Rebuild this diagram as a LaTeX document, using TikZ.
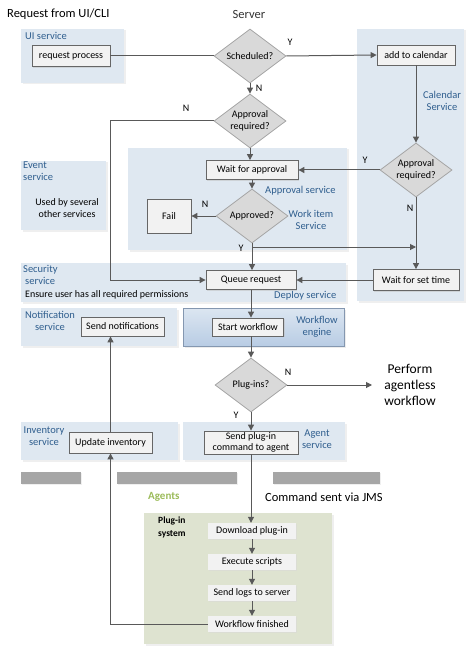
\documentclass[tikz,border=0pt]{standalone}
\usepackage{fontspec}
\setmainfont{Carlito}
\usetikzlibrary{arrows.meta,shapes.geometric,shadows}
\definecolor{panel}{HTML}{DFE8F1}
\definecolor{labblue}{HTML}{2F5E8E}
\definecolor{boxfill}{HTML}{F2F2F2}
\definecolor{boxline}{HTML}{666666}
\definecolor{diafill}{HTML}{D9D9D9}
\definecolor{dialine}{HTML}{A6A6A6}
\definecolor{linegray}{HTML}{595959}
\definecolor{greenpanel}{HTML}{DEE3D0}
\definecolor{agentsgreen}{HTML}{9BBB59}
\definecolor{bargray}{HTML}{A6A6A6}
\definecolor{wftop}{HTML}{DCE6F1}
\definecolor{wfbot}{HTML}{B8CCE4}
\definecolor{wfline}{HTML}{8497B0}
\begin{document}
\begin{tikzpicture}[x=1pt,y=-1pt,
  every node/.style={font=\fontsize{10}{11.5}\selectfont},
  pnl/.style={fill=panel, drop shadow={shadow xshift=1.5pt,shadow yshift=-1.5pt,fill=black!12}},
  box/.style={draw=boxline, fill=boxfill, line width=0.8pt, inner sep=0pt, align=center,
    drop shadow={shadow xshift=1.2pt,shadow yshift=-1.2pt,fill=black!25}},
  abox/.style={fill=boxfill, inner sep=0pt, align=center, minimum width=88pt, minimum height=16pt,
    drop shadow={shadow xshift=1.2pt,shadow yshift=-1.2pt,fill=black!15}},
  dia/.style={diamond, draw=dialine, fill=diafill, line width=0.8pt, inner sep=0pt,
    minimum width=72pt, minimum height=54pt},
  dtext/.style={align=center, inner sep=0pt},
  lab/.style={text=labblue, align=center, inner sep=0pt, font=\fontsize{10.5}{12}\selectfont},
  yn/.style={inner sep=0pt},
  ln/.style={line width=1pt, draw=linegray},
  arr/.style={ln, -{Triangle[width=6pt,length=6pt]}},
  bar/.style={fill=bargray, drop shadow={shadow xshift=1.2pt,shadow yshift=-1.2pt,fill=black!12}}
]
\useasboundingbox (0,0) rectangle (471,647);

% ---- panels ----
\fill[pnl] (21,29) rectangle (124,83);
\fill[pnl] (357,29) rectangle (464,301);
\fill[pnl] (128,148) rectangle (347,250);
\fill[pnl] (21,161) rectangle (106,230);
\fill[pnl] (21,263) rectangle (346,302);
\fill[pnl] (21,308) rectangle (177,346);
\shade[top color=wftop, bottom color=wfbot, draw=wfline, line width=1pt,
  drop shadow={shadow xshift=1.5pt,shadow yshift=-1.5pt,fill=black!15}] (183,308) rectangle (344,346);
\fill[pnl] (21,422) rectangle (178,460);
\fill[pnl] (183,422) rectangle (345,460);
\fill[bar] (21,472) rectangle (81,484);
\fill[bar] (117,472) rectangle (237,484);
\fill[bar] (273,472) rectangle (380,484);
\fill[greenpanel, drop shadow={shadow xshift=1.5pt,shadow yshift=-1.5pt,fill=black!12}] (144,513) rectangle (332,644);

% ---- titles ----
\node[anchor=west, inner sep=0pt, font=\fontsize{12.5}{14}\selectfont] (t1) at (7,14) {Request from UI/CLI};
\node[inner sep=0pt, font=\fontsize{12.5}{14}\selectfont, text=black!80] (t2) at (249,14) {Server};

% ---- panel labels ----
\node[lab, anchor=west] (l1) at (25,36) {UI service};
\node[lab] (l2) at (442,101) {Calendar\\Service};
\node[lab, anchor=west] (l3) at (265,191) {Approval service};
\node[lab] (l4) at (311,220) {Work item\\Service};
\node[lab, align=left, anchor=north west] (l5) at (23,162) {Event\\service};
\node[align=center, inner sep=0pt] (l6) at (67,208) {Used by several\\other services};
\node[lab, align=left, anchor=north west] (l7) at (23,265) {Security\\\hspace*{2pt}service};
\node[anchor=west, inner sep=0pt] (l8) at (25,295) {Ensure user has all required permissions};
\node[lab, anchor=west] (l9) at (274,296) {Deploy service};
\node[lab] (l10) at (50,321) {Notification\\service};
\node[lab] (l11) at (317,327) {Workflow\\engine};
\node[lab] (l12) at (44,436) {Inventory\\service};
\node[lab] (l13) at (317,439) {Agent\\service};
\node[anchor=west, inner sep=0pt, text=agentsgreen, font=\fontsize{11}{13}\selectfont\bfseries] (l14) at (148,497) {Agents};
\node[anchor=west, inner sep=0pt, font=\fontsize{12.5}{14}\selectfont] (l15) at (265,497) {Command sent via JMS};
\node[anchor=north west, align=left, inner sep=0pt, font=\fontsize{9.5}{13}\selectfont\bfseries] (l16) at (158,517) {Plug-in\\system};

% ---- nodes ----
\node[box, minimum width=78pt, minimum height=21pt] (rp) at (71,56) {request process};
\node[dia] (sch) at (250,56) {};
\node[dtext] at (sch) {Scheduled?};
\node[box, minimum width=78pt, minimum height=20pt] (cal) at (416,55) {add to calendar};
\node[dia] (apr1) at (250,121) {};
\node[dtext] at (apr1) {Approval\\required?};
\node[dia] (apr2) at (416,170) {};
\node[dtext] at (apr2) {Approval\\required?};
\node[box, minimum width=92pt, minimum height=19pt] (wfa) at (252,170) {Wait for approval};
\node[dia] (appd) at (252,216) {};
\node[dtext] at (appd) {Approved?};
\node[box, minimum width=44pt, minimum height=34pt] (fail) at (169,216) {Fail};
\node[box, minimum width=90pt, minimum height=19pt] (qr) at (251,280) {Queue request};
\node[box, minimum width=86pt, minimum height=21pt] (wst) at (416,280) {Wait for set time};
\node[box, minimum width=71pt, minimum height=18pt] (sw) at (248,327) {Start workflow};
\node[dia] (plug) at (251,385) {};
\node[dtext] at (plug) {Plug-ins?};
\node[align=center, inner sep=0pt, font=\fontsize{13.5}{16}\selectfont] (perf) at (410,385) {Perform\\agentless\\workflow};
\coordinate (pend) at (372,385);
\node[box, minimum width=94pt, minimum height=23pt, font=\fontsize{10}{11}\selectfont] (spc) at (251,442.5) {Send plug-in\\command to agent};
\node[box, minimum width=83pt, minimum height=19pt] (sn) at (122.5,326.5) {Send notifications};
\node[box, minimum width=83pt, minimum height=21pt] (ui) at (110.5,442.5) {Update inventory};
\node[abox] (dl) at (252,531) {Download plug-in};
\node[abox] (ex) at (252,562) {Execute scripts};
\node[abox] (sl) at (252,593) {Send logs to server};
\node[abox] (wf) at (252,624) {Workflow finished};

\coordinate (nx) at (110,0);
\coordinate (yb) at (252,247);

% ---- connectors ----
\draw[ln] (rp.east) -- (sch.west);
\draw[arr] (sch.east) -- (cal.west);
\node[yn] at (290,42) {Y};
\draw[arr] (sch.south) -- (apr1.north);
\node[yn] at (259,88) {N};
\draw[arr] (cal.south) -- (apr2.north);
\draw[arr] (apr1.south) -- (apr1.south |- wfa.north);
\draw[arr] (apr2.west) -- (wfa.east);
\node[yn] at (365,160) {Y};
\draw[arr] (apr1.west) -- (apr1.west -| nx) -- (nx |- qr.west) -- (qr.west);
\node[yn] at (186,108) {N};
\draw[arr] (wfa.south) -- (appd.north);
\draw[arr] (appd.west) -- (fail.east);
\node[yn] at (205,204) {N};
\draw[arr] (appd.south) -- (appd.south |- qr.north);
\node[yn] at (241,248) {Y};
\draw[arr] (yb) -- (yb -| apr2.south);
\draw[arr] (apr2.south) -- (wst.north);
\node[yn] at (410,208) {N};
\draw[arr] (wst.west) -- (qr.east);
\draw[arr] (qr.south) -- (qr.south |- sw.north);
\draw[arr] (sw.south -| plug.north) -- (plug.north);
\draw[arr] (plug.east) -- (pend);
\node[yn] at (288,372) {N};
\draw[arr] (plug.south) -- (spc.north);
\node[yn] at (236,415) {Y};
\draw[arr] (spc.south) -- (spc.south |- dl.north);
\draw[arr] (dl.south) -- (ex.north);
\draw[arr] (ex.south) -- (sl.north);
\draw[arr] (sl.south) -- (wf.north);
\draw[arr] (wf.west) -- (wf.west -| ui.south) -- (ui.south);
\draw[arr] (ui.north) -- (ui.north |- sn.south);
\end{tikzpicture}
\end{document}
